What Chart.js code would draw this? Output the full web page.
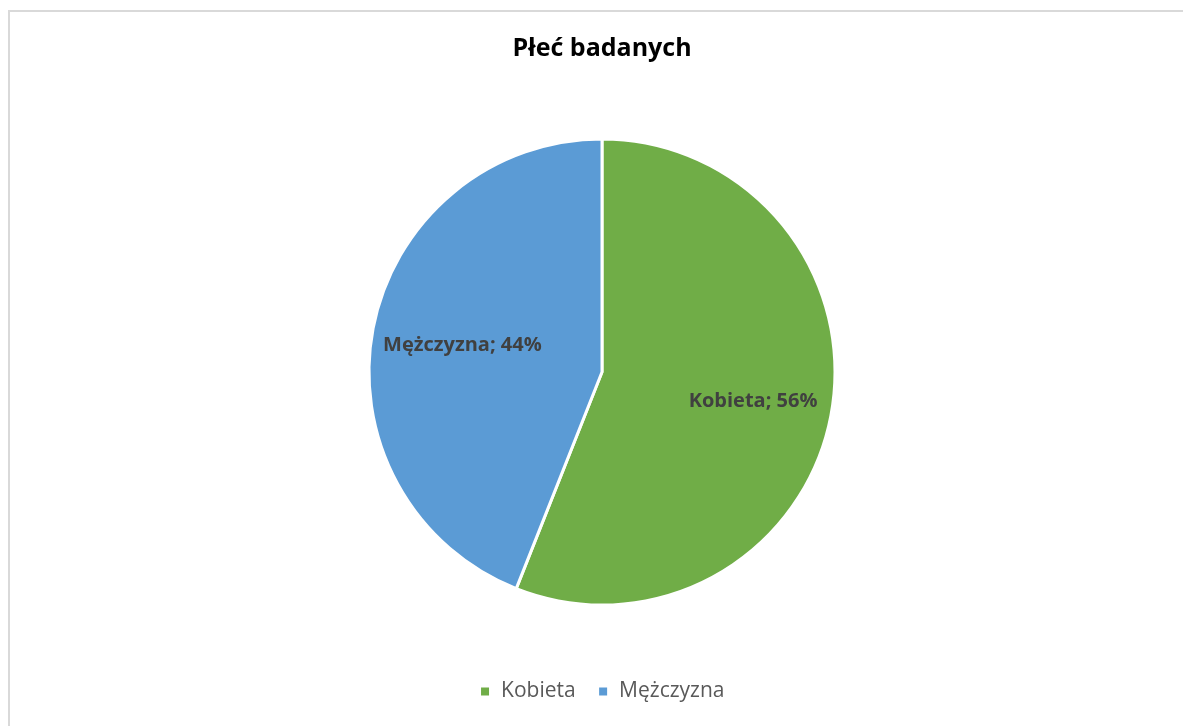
<!DOCTYPE html>
<html lang="pl">
<head>
    <meta charset="UTF-8">
    <title>Płeć badanych</title>
    <script src="https://cdn.jsdelivr.net/npm/chart.js@4.4.1/dist/chart.umd.min.js"></script>
    <style>
        html, body { margin: 0; padding: 0; background: #fff; overflow: hidden; }
        .frame {
            position: absolute; left: 8px; top: 10px; width: 1300px; height: 800px;
            border-top: 2px solid #d9d9d9; border-left: 2px solid #d9d9d9;
        }
        .chart-box { position: absolute; left: 0; top: 0; width: 1204px; height: 726px; }
    </style>
</head>
<body>
    <div class="frame"></div>
    <div class="chart-box">
        <canvas id="pieChart"></canvas>
    </div>

    <script>
        // data
        const categories = ['Kobieta', 'Mężczyzna'];
        const shares = [56, 44];
        const sliceColors = ['#70ad47', '#5b9bd5'];

        // labels inside the slices: "Name; NN%"
        const sliceLabels = {
            id: 'sliceLabels',
            afterDatasetsDraw(chart, args, opts) {
                const ctx = chart.ctx;
                const meta = chart.getDatasetMeta(0);
                const total = shares.reduce((a, b) => a + b, 0);
                ctx.save();
                ctx.font = 'bold 20px "Open Sans"';
                ctx.fillStyle = '#404040';
                ctx.textAlign = 'center';
                ctx.textBaseline = 'middle';
                meta.data.forEach((arc, i) => {
                    const p = arc.getProps(['x', 'y', 'startAngle', 'endAngle', 'outerRadius'], true);
                    const mid = (p.startAngle + p.endAngle) / 2;
                    const r = p.outerRadius * opts.dist[i];
                    const pct = Math.round(shares[i] / total * 100);
                    ctx.fillText(categories[i] + '; ' + pct + '%', p.x + Math.cos(mid) * r, p.y + Math.sin(mid) * r);
                });
                ctx.restore();
            }
        };

        const ctx = document.getElementById('pieChart').getContext('2d');
        new Chart(ctx, {
            type: 'pie',
            data: {
                labels: categories,
                datasets: [{
                    data: shares,
                    backgroundColor: sliceColors,
                    borderColor: '#ffffff',
                    borderWidth: 3,
                    radius: 233
                }]
            },
            options: {
                responsive: true,
                maintainAspectRatio: false,
                animation: false,
                layout: { padding: { bottom: 14 } },
                plugins: {
                    title: {
                        display: true,
                        text: 'Płeć badanych',
                        color: '#000000',
                        font: { family: 'Open Sans', size: 25, weight: 'bold', lineHeight: 1.2 },
                        padding: { top: 34, bottom: 21 }
                    },
                    legend: {
                        position: 'bottom',
                        labels: {
                            boxWidth: 11,
                            boxHeight: 11,
                            padding: 22,
                            color: '#595959',
                            font: { family: 'Open Sans', size: 21 }
                        }
                    },
                    tooltip: { enabled: false },
                    sliceLabels: { dist: [0.66, 0.61] }
                }
            },
            plugins: [sliceLabels]
        });
    </script>
</body>
</html>
